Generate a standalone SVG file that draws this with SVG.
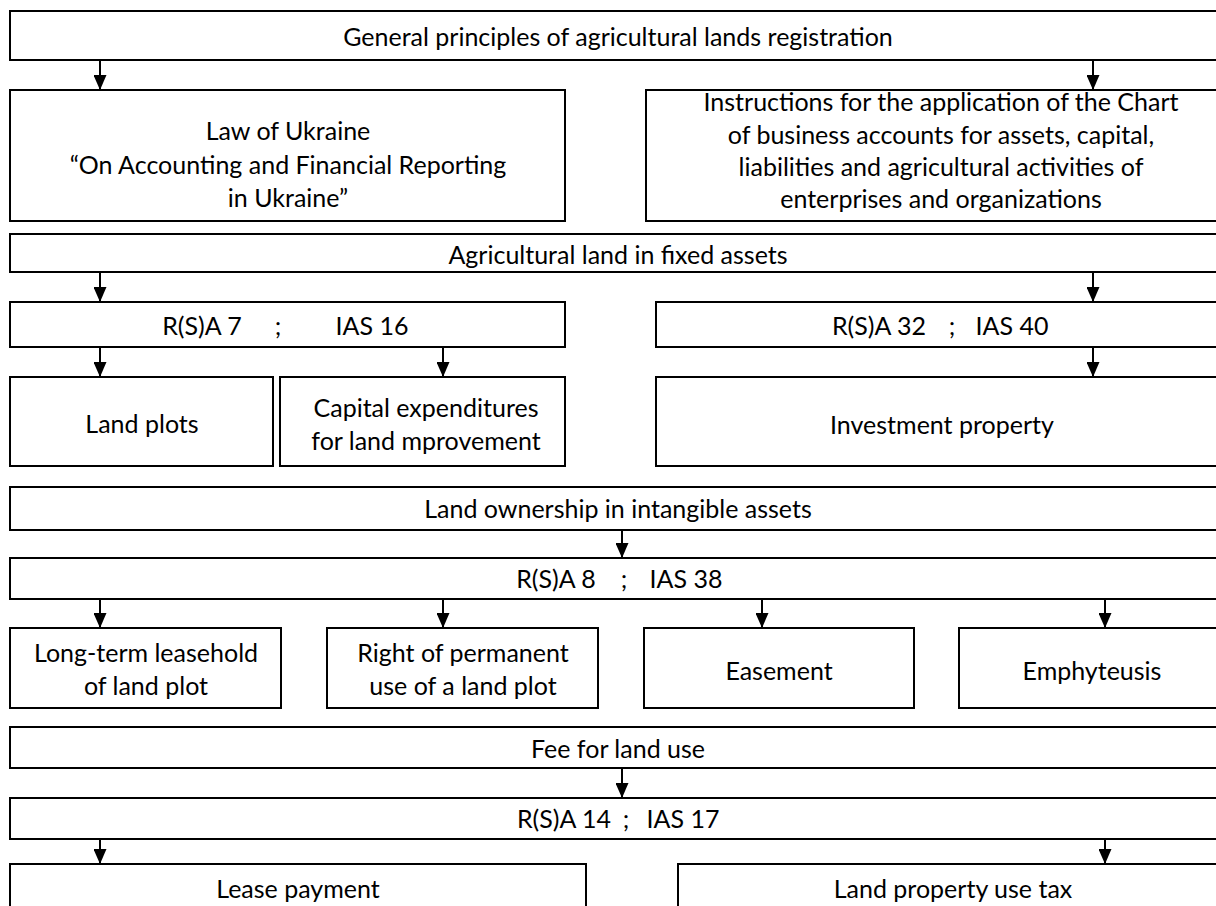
<svg xmlns="http://www.w3.org/2000/svg" width="1216" height="906" viewBox="0 0 1216 906">
<style>
.b{fill:#fff;stroke:#000;stroke-width:2}
.t{font-family:Lato,"Liberation Sans",sans-serif;font-size:25px;fill:#000;text-anchor:middle;dominant-baseline:central}
.c{stroke:#000;stroke-width:2;fill:none;marker-end:url(#ah)}
</style>
<defs>
<marker id="ah" markerWidth="15" markerHeight="13" refX="15" refY="6.5" orient="auto" markerUnits="userSpaceOnUse" viewBox="0 0 15 13">
<path d="M0,0 L15,6.5 L0,13 Z" fill="#000"/>
</marker>
</defs>
<rect width="1216" height="906" fill="#fff"/>
<g id="n-general"><rect class="b" x="10" y="11" width="1220" height="49"/><text class="t" x="618" y="36">General principles of agricultural lands registration</text></g>
<g id="n-law"><rect class="b" x="10" y="90" width="555" height="131"/>
<text class="t" x="288" y="130">Law of Ukraine</text>
<text class="t" x="288" y="163.5">“On Accounting and Financial Reporting</text>
<text class="t" x="288" y="197">in Ukraine”</text></g>
<g id="n-instr"><rect class="b" x="646" y="90" width="584" height="131"/>
<text class="t" x="941" y="101">Instructions for the application of the Chart</text>
<text class="t" x="941" y="133.5">of business accounts for assets, capital,</text>
<text class="t" x="941" y="166">liabilities and agricultural activities of</text>
<text class="t" x="941" y="198">enterprises and organizations</text></g>
<g id="n-agri"><rect class="b" x="10" y="234" width="1220" height="38"/><text class="t" x="618" y="254">Agricultural land in fixed assets</text></g>
<g id="n-rsa7"><rect class="b" x="10" y="302" width="555" height="45"/><text class="t" y="325"><tspan x="202">R(S)A 7</tspan><tspan x="278">;</tspan><tspan x="372">IAS 16</tspan></text></g>
<g id="n-rsa32"><rect class="b" x="656" y="302" width="574" height="45"/><text class="t" y="325"><tspan x="879">R(S)A 32</tspan><tspan x="952">;</tspan><tspan x="1012">IAS 40</tspan></text></g>
<g id="n-plots"><rect class="b" x="10" y="377" width="263" height="89"/><text class="t" x="142" y="423">Land plots</text></g>
<g id="n-capex"><rect class="b" x="280" y="377" width="285" height="89"/>
<text class="t" x="426" y="407">Capital expenditures</text>
<text class="t" x="426" y="440">for land mprovement</text></g>
<g id="n-invest"><rect class="b" x="656" y="377" width="574" height="89"/><text class="t" x="942" y="424">Investment property</text></g>
<g id="n-own"><rect class="b" x="10" y="487" width="1220" height="43"/><text class="t" x="618" y="508">Land ownership in intangible assets</text></g>
<g id="n-rsa8"><rect class="b" x="10" y="558" width="1220" height="41"/><text class="t" y="578"><tspan x="556">R(S)A 8</tspan><tspan x="624">;</tspan><tspan x="686">IAS 38</tspan></text></g>
<g id="n-lease-hold"><rect class="b" x="10" y="628" width="271" height="80"/>
<text class="t" x="146" y="652">Long-term leasehold</text>
<text class="t" x="146" y="685">of land plot</text></g>
<g id="n-perm"><rect class="b" x="327" y="628" width="271" height="80"/>
<text class="t" x="463" y="652">Right of permanent</text>
<text class="t" x="463" y="685">use of a land plot</text></g>
<g id="n-ease"><rect class="b" x="644" y="628" width="270" height="80"/><text class="t" x="779" y="670">Easement</text></g>
<g id="n-emph"><rect class="b" x="959" y="628" width="271" height="80"/><text class="t" x="1092" y="670">Emphyteusis</text></g>
<g id="n-fee"><rect class="b" x="10" y="727" width="1220" height="41"/><text class="t" x="618" y="748">Fee for land use</text></g>
<g id="n-rsa14"><rect class="b" x="10" y="798" width="1220" height="41"/><text class="t" y="818"><tspan x="564">R(S)A 14</tspan><tspan x="626">;</tspan><tspan x="683">IAS 17</tspan></text></g>
<g id="n-leasepay"><rect class="b" x="10" y="864" width="576" height="60"/><text class="t" x="298" y="888">Lease payment</text></g>
<g id="n-tax"><rect class="b" x="678" y="864" width="552" height="60"/><text class="t" x="953" y="888">Land property use tax</text></g>
<g id="connectors">
<line class="c" x1="100" y1="60" x2="100" y2="90"/>
<line class="c" x1="1093" y1="60" x2="1093" y2="90"/>
<line class="c" x1="100" y1="272" x2="100" y2="302"/>
<line class="c" x1="1093" y1="272" x2="1093" y2="302"/>
<line class="c" x1="100" y1="347" x2="100" y2="377"/>
<line class="c" x1="443" y1="347" x2="443" y2="377"/>
<line class="c" x1="1093" y1="347" x2="1093" y2="377"/>
<line class="c" x1="622" y1="530" x2="622" y2="558"/>
<line class="c" x1="100" y1="599" x2="100" y2="628"/>
<line class="c" x1="443" y1="599" x2="443" y2="628"/>
<line class="c" x1="762" y1="599" x2="762" y2="628"/>
<line class="c" x1="1105" y1="599" x2="1105" y2="628"/>
<line class="c" x1="622" y1="768" x2="622" y2="798"/>
<line class="c" x1="100" y1="839" x2="100" y2="864"/>
<line class="c" x1="1105" y1="839" x2="1105" y2="864"/>
</g>
</svg>
